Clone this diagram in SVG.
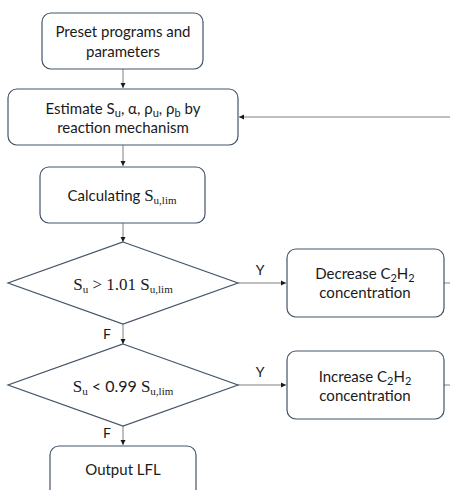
<svg xmlns="http://www.w3.org/2000/svg" width="450" height="490" viewBox="0 0 450 490">
<defs>
<marker id="ah" markerWidth="6" markerHeight="6" refX="5" refY="3" orient="auto" markerUnits="userSpaceOnUse">
<path d="M0,0.5 L5,3 L0,5.5 z" fill="#1a1a1a"/>
</marker>
<style>
.box{fill:#ffffff;stroke:#44546a;stroke-width:1.2}
.t{font-family:Lato,"Open Sans","Liberation Sans",sans-serif;font-size:15px;fill:#1a1a1a;text-anchor:middle}
.m{font-family:"Liberation Serif","DejaVu Serif",serif;font-size:17px;fill:#1a1a1a;text-anchor:middle}
.sub{font-size:11px}
.sans{font-family:Lato,"Open Sans","Liberation Sans",sans-serif;font-size:16px}
.lbl{font-family:Lato,"Open Sans","Liberation Sans",sans-serif;font-size:14px;fill:#1a1a1a;text-anchor:middle}
.c{fill:none;stroke:#808080;stroke-width:1}
</style>
</defs>
<rect width="450" height="490" fill="#ffffff"/>
<g id="connectors">
<line class="c" x1="123" y1="69" x2="123" y2="88" marker-end="url(#ah)"/>
<line class="c" x1="123" y1="145" x2="123" y2="166" marker-end="url(#ah)"/>
<line class="c" x1="123" y1="223" x2="123" y2="242" marker-end="url(#ah)"/>
<line class="c" x1="123" y1="324" x2="123" y2="344" marker-end="url(#ah)"/>
<line class="c" x1="123" y1="426" x2="123" y2="445" marker-end="url(#ah)"/>
<line class="c" x1="238" y1="283" x2="286" y2="283" marker-end="url(#ah)"/>
<line class="c" x1="238" y1="385" x2="286" y2="385" marker-end="url(#ah)"/>
<line class="c" x1="444" y1="283" x2="450" y2="283"/>
<line class="c" x1="444" y1="385" x2="450" y2="385"/>
<line class="c" x1="450" y1="117" x2="239" y2="117" marker-end="url(#ah)"/>
<text class="lbl" x="260" y="275">Y</text>
<text class="lbl" x="260" y="377">Y</text>
<text class="lbl" x="107" y="339">F</text>
<text class="lbl" x="107" y="438">F</text>
</g>
<g id="preset">
<rect class="box" x="42" y="13" width="161" height="56" rx="9"/>
<text class="t" x="123" y="37">Preset programs and</text>
<text class="t" x="123" y="57">parameters</text>
</g>
<g id="estimate">
<rect class="box" x="8" y="89" width="230" height="56" rx="9"/>
<text class="t" x="123" y="114">Estimate S<tspan class="sub" dy="3">u</tspan><tspan dy="-3">, α, ρ</tspan><tspan class="sub" dy="3">u</tspan><tspan dy="-3">, ρ</tspan><tspan class="sub" dy="3">b</tspan><tspan dy="-3"> by</tspan></text>
<text class="t" x="123" y="133">reaction mechanism</text>
</g>
<g id="calc">
<rect class="box" x="40" y="167" width="165" height="56" rx="9"/>
<text class="t" x="122" y="201">Calculating <tspan font-family="'Liberation Serif',serif" font-size="17">S</tspan><tspan font-family="'Liberation Serif',serif" font-size="11" dy="3">u,lim</tspan></text>
</g>
<g id="dec1">
<polygon class="box" points="123,242 238,283 123,324 8,283"/>
<text class="m" x="123" y="290">S<tspan class="sub" dy="3">u</tspan><tspan dy="-3"> &gt; 1.01 S</tspan><tspan class="sub" dy="3">u,lim</tspan></text>
</g>
<g id="decrease">
<rect class="box" x="287" y="249" width="157" height="68" rx="9"/>
<text class="t" x="365" y="279">Decrease C<tspan class="sub" dy="3">2</tspan><tspan dy="-3">H</tspan><tspan class="sub" dy="3">2</tspan></text>
<text class="t" x="365" y="298">concentration</text>
</g>
<g id="dec2">
<polygon class="box" points="123,344 238,385 123,426 8,385"/>
<text class="m" x="123" y="392">S<tspan class="sub" dy="3">u</tspan><tspan class="sans" dy="-3"> &lt; 0.99  </tspan><tspan>S</tspan><tspan class="sub" dy="3">u,lim</tspan></text>
</g>
<g id="increase">
<rect class="box" x="287" y="351" width="157" height="68" rx="9"/>
<text class="t" x="365" y="382">Increase C<tspan class="sub" dy="3">2</tspan><tspan dy="-3">H</tspan><tspan class="sub" dy="3">2</tspan></text>
<text class="t" x="365" y="401">concentration</text>
</g>
<g id="output">
<rect class="box" x="50" y="446" width="146" height="60" rx="9"/>
<text class="t" x="123" y="475">Output LFL</text>
</g>
</svg>
